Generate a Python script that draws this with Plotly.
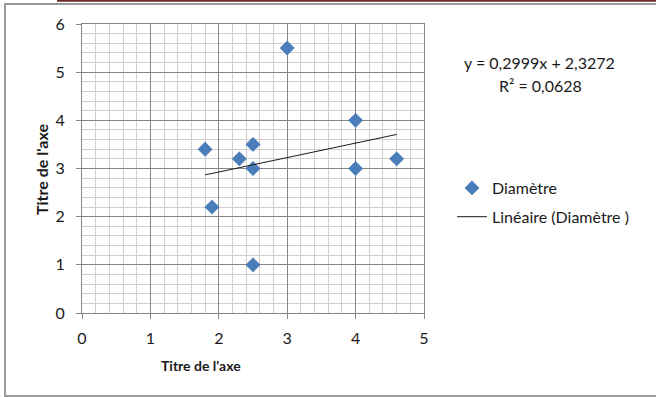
import numpy as np
import plotly.graph_objects as go

# ---- data ----
diam_x = [1.8, 1.9, 2.3, 2.5, 2.5, 2.5, 3.0, 4.0, 4.0, 4.6]
diam_y = [3.4, 2.2, 3.2, 3.5, 3.0, 1.0, 5.5, 4.0, 3.0, 3.2]
series_name = "Diamètre"
trend_name = "Linéaire (Diamètre )"
x_title = "Titre de l'axe"
y_title = "Titre de l'axe"
x_ticks = [0, 1, 2, 3, 4, 5]
y_ticks = [0, 1, 2, 3, 4, 5, 6]

# linear trendline (least squares, as Excel does)
slope, intercept = np.polyfit(diam_x, diam_y, 1)
pred = np.polyval([slope, intercept], diam_x)
ss_res = float(np.sum((np.array(diam_y) - pred) ** 2))
ss_tot = float(np.sum((np.array(diam_y) - np.mean(diam_y)) ** 2))
r2 = 1 - ss_res / ss_tot
trend_x = [min(diam_x), max(diam_x)]
trend_y = list(np.polyval([slope, intercept], trend_x))

def fr(v, n=4):
    return f"{v:.{n}f}".replace(".", ",")

eq_text = f"y = {fr(slope)}x + {fr(intercept)}"
r2_text = f"R² = {fr(r2)}"

# ---- layout geometry (pixels) ----
W, H = 656, 397
L, R, T, B = 82, 424, 24, 313
PW, PH = R - L, B - T

def px(x):
    return (x - L) / PW

def py(y):
    return (B - y) / PH

FONT = "Lato, Calibri, Carlito, sans-serif"
BLUE = "#4A7EBB"
AX = "#868686"
TXT = "#1a1a1a"

fig = go.Figure()
fig.add_trace(go.Scatter(
    x=diam_x, y=diam_y, mode="markers", name=series_name,
    marker=dict(symbol="diamond", size=11, color=BLUE,
                line=dict(color="#3F6FA8", width=0.5)),
    legendgroup="a",
))
fig.add_trace(go.Scatter(
    x=trend_x, y=trend_y, mode="lines", name=trend_name,
    line=dict(color=TXT, width=1),
    legendgroup="b",
))

axis_common = dict(
    showline=True, linecolor=AX, linewidth=1, mirror=True,
    showgrid=True, gridcolor=AX, gridwidth=1,
    ticks="outside", ticklen=5, tickcolor=AX, tickwidth=1,
    zeroline=False,
    tickfont=dict(family=FONT, size=16, color=TXT),
)

fig.update_xaxes(range=[0, 5], tickvals=x_ticks, ticklabelstandoff=6,
                 minor=dict(dtick=0.2, showgrid=True, gridcolor="#cfcfcf", gridwidth=1),
                 **axis_common)
fig.update_yaxes(range=[0, 6], tickvals=y_ticks, ticklabelstandoff=8,
                 minor=dict(dtick=0.2, showgrid=True, gridcolor="#cfcfcf", gridwidth=1),
                 **axis_common)

fig.update_layout(
    width=W, height=H,
    margin=dict(l=L, r=W - R, t=T, b=H - B, pad=0),
    paper_bgcolor="white", plot_bgcolor="white",
    font=dict(family=FONT, size=16, color=TXT),
    showlegend=True,
    legend=dict(x=px(452), y=py(171), xanchor="left", yanchor="top",
                bgcolor="rgba(0,0,0,0)", traceorder="grouped",
                tracegroupgap=5, itemwidth=30,
                font=dict(family=FONT, size=16, color=TXT)),
    shapes=[
        dict(type="rect", xref="paper", yref="paper",
             x0=px(5), x1=px(700), y0=py(396), y1=py(4),
             line=dict(color="#9a9a9a", width=2), layer="below"),
        dict(type="line", xref="paper", yref="paper",
             x0=px(57), x1=px(656), y0=py(0.8), y1=py(0.8),
             line=dict(color="#6e2a2a", width=2)),
    ],
    annotations=[
        dict(text=eq_text, xref="paper", yref="paper", x=px(539), y=py(63),
             showarrow=False, xanchor="center", yanchor="middle",
             font=dict(family=FONT, size=16, color=TXT)),
        dict(text=r2_text, xref="paper", yref="paper", x=px(540), y=py(85),
             showarrow=False, xanchor="center", yanchor="middle",
             font=dict(family=FONT, size=16, color=TXT)),
        dict(text=f"<b>{x_title}</b>", xref="paper", yref="paper", x=px(201), y=py(365),
             showarrow=False, xanchor="center", yanchor="middle",
             font=dict(family=FONT, size=14, color=TXT)),
        dict(text=f"<b>{y_title}</b>", xref="paper", yref="paper", x=px(41), y=py(170),
             showarrow=False, xanchor="center", yanchor="middle", textangle=-90,
             font=dict(family=FONT, size=16, color=TXT)),
    ],
)

fig.write_html("out.html")
